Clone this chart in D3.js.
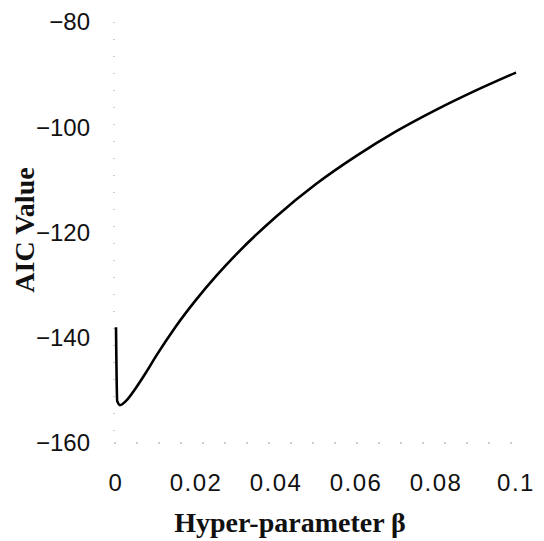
<!DOCTYPE html>
<html>
<head>
<meta charset="utf-8">
<script src="https://cdn.jsdelivr.net/npm/d3@7"></script>
<style>
  body { margin: 0; background: #fff; }
</style>
</head>
<body>
<script>
const width = 544;
const height = 541;

// values
const beta = [0, 0.0003, 0.001, 0.0025, 0.005, 0.0075, 0.01, 0.015, 0.02, 0.025,
              0.03, 0.04, 0.05, 0.06, 0.07, 0.08, 0.09, 0.1];
const aic = [-138, -152, -152.8, -152.0, -149.5, -146.6, -143.5, -137.8, -132.8, -128.3,
             -124.2, -117.0, -110.8, -105.5, -100.8, -96.7, -93.0, -89.6];
const xTicks = [0, 0.02, 0.04, 0.06, 0.08, 0.1];
const xTickLabels = ["0", "0.02", "0.04", "0.06", "0.08", "0.1"];
const yTicks = [-160, -140, -120, -100, -80];

const x = d3.scaleLinear().domain([0, 0.1]).range([116, 516]);
const y = d3.scaleLinear().domain([-160, -80]).range([443, 22]);

const svg = d3.select("body").append("svg")
    .attr("width", width)
    .attr("height", height);

// faint broken axes, like the scan
svg.append("line")
    .attr("x1", x(0) - 2).attr("x2", x(0) - 2)
    .attr("y1", y(-80)).attr("y2", y(-160))
    .attr("stroke", "#999")
    .attr("stroke-width", 1)
    .attr("stroke-dasharray", "1,16");
svg.append("line")
    .attr("x1", x(0) - 2).attr("x2", x(0.1) - 4)
    .attr("y1", y(-160)).attr("y2", y(-160))
    .attr("stroke", "#999")
    .attr("stroke-width", 1)
    .attr("stroke-dasharray", "2,20");

// y tick labels
svg.selectAll(".ylab")
    .data(yTicks)
    .enter().append("text")
    .attr("class", "ylab")
    .attr("x", 90)
    .attr("y", d => y(d))
    .attr("dy", "0.35em")
    .attr("text-anchor", "end")
    .attr("font-family", "Liberation Sans, Arial, sans-serif")
    .attr("font-size", 24)
    .attr("fill", "#111")
    .text(d => "\u2212" + Math.abs(d));

// x tick labels
svg.selectAll(".xlab")
    .data(xTicks)
    .enter().append("text")
    .attr("class", "xlab")
    .attr("x", d => x(d))
    .attr("y", 491)
    .attr("text-anchor", "middle")
    .attr("font-family", "Liberation Sans, Arial, sans-serif")
    .attr("font-size", 24)
    .attr("letter-spacing", 1.5)
    .attr("fill", "#111")
    .text((d, i) => xTickLabels[i]);

// the curve
const line = d3.line()
    .x((d, i) => x(beta[i]))
    .y(d => y(d))
    .curve(d3.curveMonotoneX);

svg.append("path")
    .datum(aic)
    .attr("d", line)
    .attr("fill", "none")
    .attr("stroke", "#000")
    .attr("stroke-width", 2.6)
    .attr("stroke-linejoin", "round");

// axis titles
svg.append("text")
    .attr("transform", "translate(34,230) rotate(-90)")
    .attr("text-anchor", "middle")
    .attr("font-family", "Liberation Serif, Times New Roman, serif")
    .attr("font-weight", "bold")
    .attr("font-size", 28)
    .attr("fill", "#111")
    .text("AIC Value");

svg.append("text")
    .attr("x", 290)
    .attr("y", 532)
    .attr("text-anchor", "middle")
    .attr("font-family", "Liberation Serif, Times New Roman, serif")
    .attr("font-weight", "bold")
    .attr("font-size", 28)
    .attr("fill", "#111")
    .text("Hyper-parameter \u03B2");
</script>
</body>
</html>
